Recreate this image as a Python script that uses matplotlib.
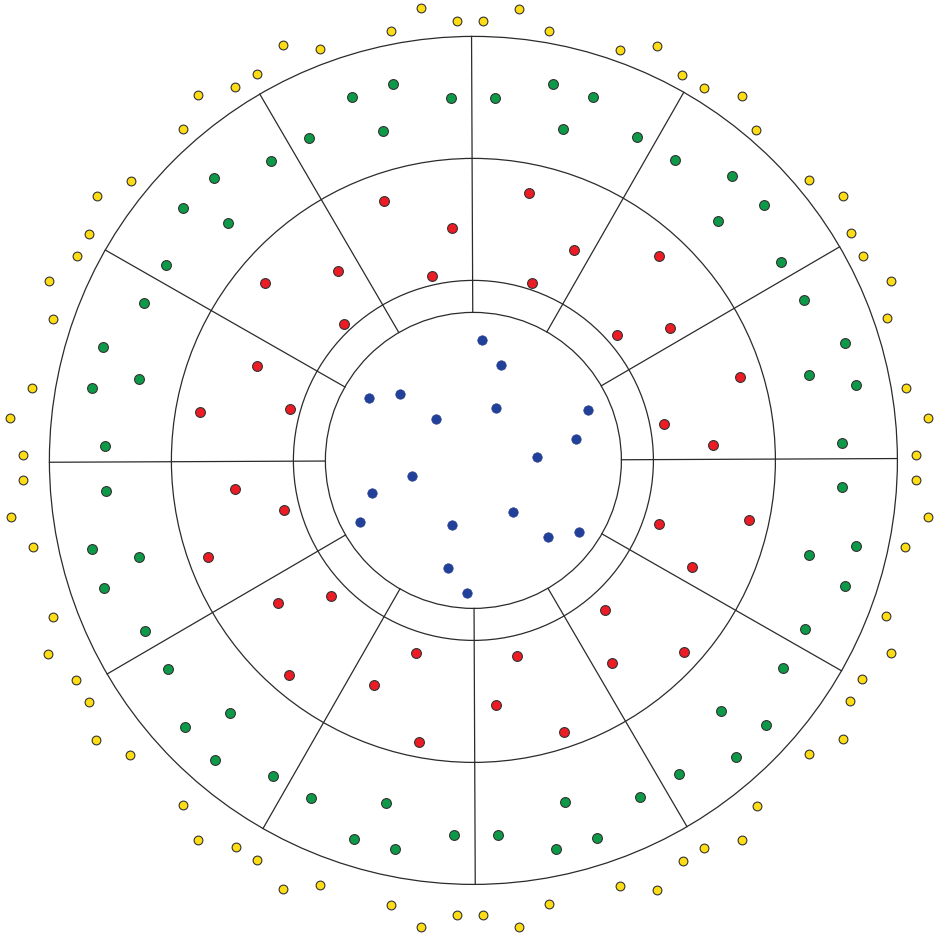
import numpy as np
import matplotlib
matplotlib.use('Agg')
import matplotlib.pyplot as plt
from matplotlib.patches import Circle

# ── Data (dot positions, pixel coords) ────────────────────────────────
blue_x = [482, 501, 369, 400, 436, 496, 588, 576, 537, 412, 372, 360, 452, 513, 548, 579, 448, 467]
blue_y = [341, 366, 399, 395, 420, 409, 411, 440, 458, 477, 494, 523, 526, 513, 538, 533, 569, 594]

red_x = [265, 384, 452, 338, 432, 529, 574, 532, 659, 257, 200, 290,
         235, 284, 208, 278, 344, 617, 331, 605, 670, 740, 664, 713,
         659, 749, 692, 289, 416, 374, 419, 517, 496, 564, 612, 684]
red_y = [284, 202, 229, 272, 277, 194, 251, 284, 257, 367, 413, 410,
         490, 511, 558, 604, 325, 336, 597, 611, 329, 378, 425, 446,
         525, 521, 568, 676, 654, 686, 743, 657, 706, 733, 664, 653]

green_x = [309, 271, 214, 183, 228, 166, 144,
           393, 352, 451, 383, 495, 553, 593, 563,
           637, 675, 732, 764, 718, 781, 804,
           103, 139, 92, 105, 106, 92, 139, 104,
           845, 809, 856, 842, 842, 856, 809, 845,
           145, 168, 230, 185, 215, 273, 311,
           386, 354, 395, 454, 498, 565, 556, 597,
           805, 783, 721, 766, 736, 679, 640]
green_y = [139, 162, 179, 209, 224, 266, 304,
           85, 98, 99, 132, 99, 85, 98, 130,
           138, 161, 177, 206, 222, 263, 301,
           348, 380, 389, 447, 492, 550, 558, 589,
           344, 376, 386, 444, 488, 547, 556, 587,
           632, 670, 714, 728, 761, 777, 799,
           804, 840, 850, 836, 836, 803, 850, 839,
           630, 669, 712, 726, 758, 775, 798]

yellow_x = [283, 257, 235, 198, 183, 131, 97, 89, 77, 49,
            320, 391, 421, 457, 483, 519, 549, 620,
            657, 682, 704, 742, 756, 809, 843, 851, 863, 891,
            53, 32, 10, 23, 23, 11, 33, 53,
            887, 906, 928, 916, 916, 928, 905, 886,
            48, 76, 89, 96, 130, 183, 198, 236, 257, 283,
            320, 391, 421, 457, 483, 519, 549, 620,
            891, 862, 850, 843, 809, 757, 742, 704, 683, 657]
yellow_y = [46, 75, 88, 96, 130, 182, 197, 235, 257, 282,
            50, 32, 9, 22, 22, 10, 32, 51,
            47, 76, 89, 97, 131, 181, 197, 234, 257, 282,
            320, 389, 419, 456, 481, 518, 548, 618,
            319, 389, 419, 456, 481, 518, 548, 617,
            655, 681, 703, 741, 756, 806, 841, 848, 861, 890,
            886, 906, 928, 916, 916, 928, 905, 887,
            654, 680, 702, 740, 755, 807, 841, 849, 862, 891]

# ── Layout ────────────────────────────────────────────────────────────
cx, cy = 473.4, 461.4
radii = [148, 180, 302, 424]
n_sectors = 12
rot = 0.25  # degrees, slight tilt of the spokes

fig = plt.figure(figsize=(9.4, 9.37), dpi=100)
ax = fig.add_axes([0, 0, 1, 1])
ax.set_xlim(0, 940)
ax.set_ylim(937, 0)
ax.set_aspect('equal')
ax.axis('off')

line_kw = dict(color='#2b2b2b', lw=0.9)
for r in radii:
    ax.add_patch(Circle((cx, cy), r, fill=False, edgecolor=line_kw['color'], lw=line_kw['lw']))

for k in range(n_sectors):
    a = np.deg2rad(k * 360 / n_sectors + rot)
    x0, y0 = cx + radii[0] * np.cos(a), cy - radii[0] * np.sin(a)
    x1, y1 = cx + radii[-1] * np.cos(a), cy - radii[-1] * np.sin(a)
    ax.plot([x0, x1], [y0, y1], **line_kw)

edge = '#333333'
ax.scatter(yellow_x, yellow_y, s=40, c='#ffdd15', edgecolors=edge, linewidths=0.8, zorder=3)
ax.scatter(green_x, green_y, s=50, c='#0d9a48', edgecolors=edge, linewidths=0.8, zorder=3)
ax.scatter(red_x, red_y, s=50, c='#ed1c24', edgecolors=edge, linewidths=0.8, zorder=3)
ax.scatter(blue_x, blue_y, s=46, c='#21409a', edgecolors='#2a3f8a', linewidths=0.5, zorder=3)

fig.savefig('out.png', dpi=100, facecolor='white')
